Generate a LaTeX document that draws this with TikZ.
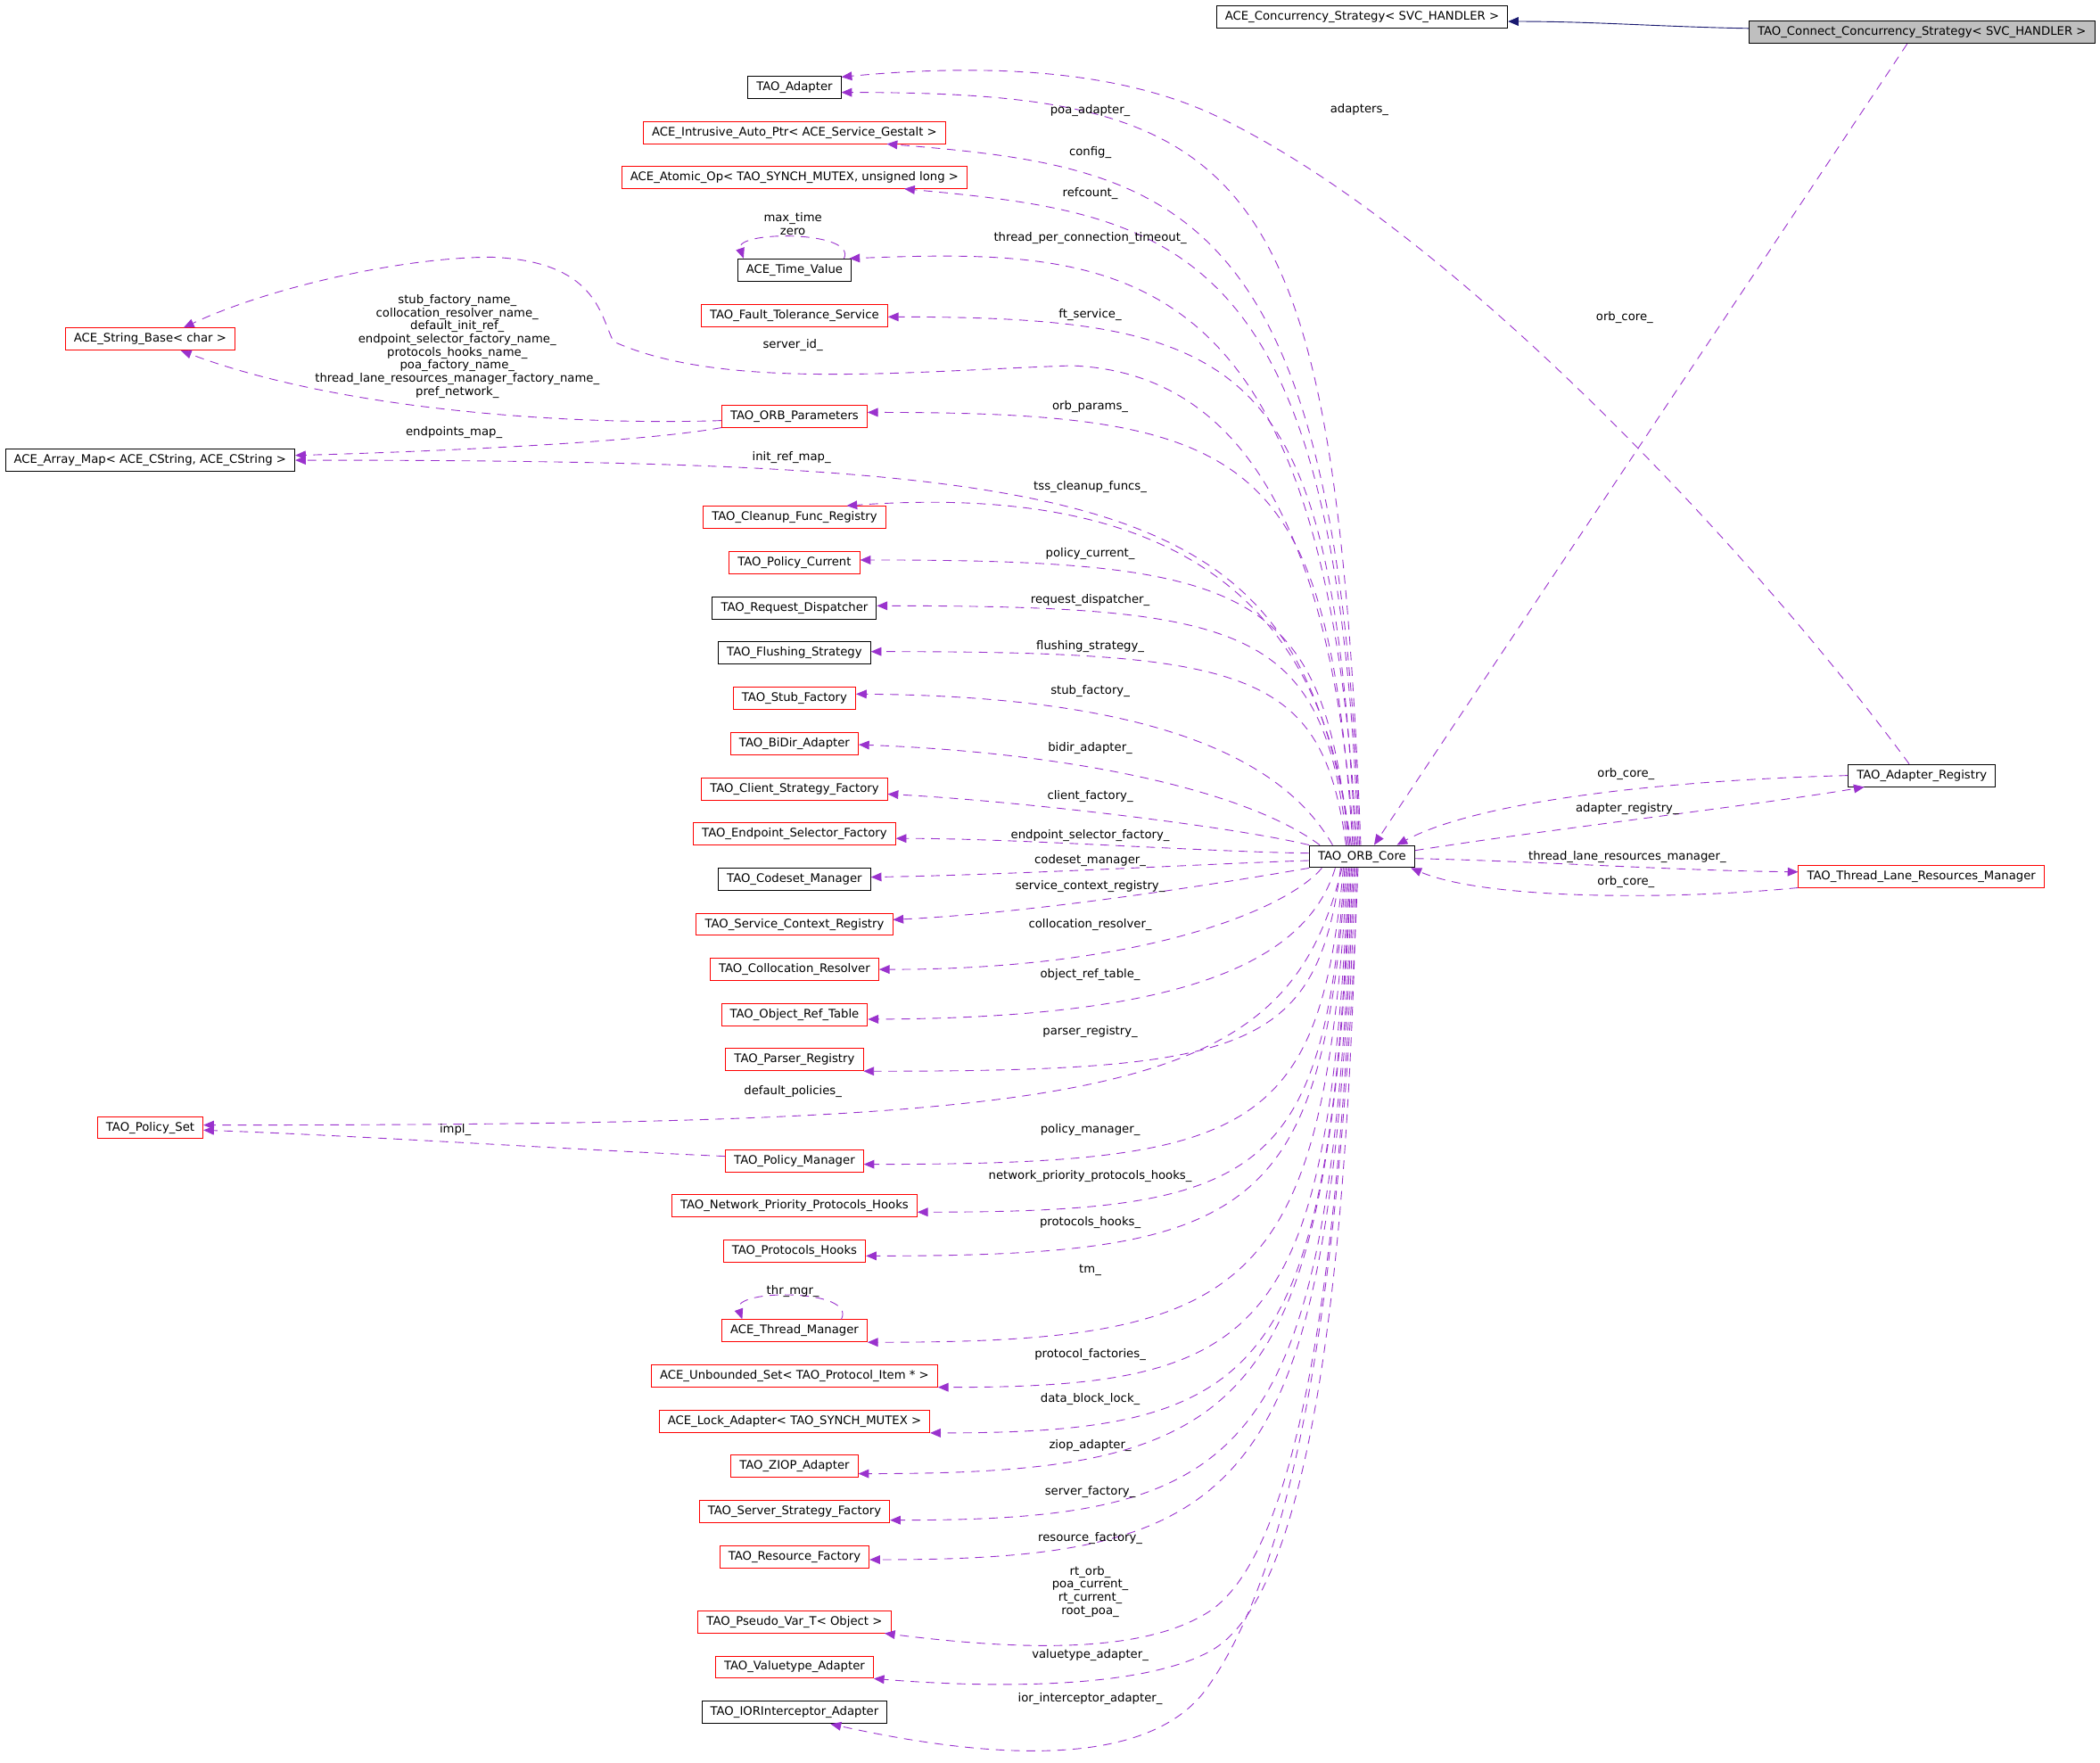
\documentclass[tikz,border=0pt]{standalone}
\usepackage{fontspec}
\setmainfont{DejaVu Sans}
\usetikzlibrary{arrows.meta, calc}

\definecolor{edgepurple}{HTML}{9A32CD}
\definecolor{edgenavy}{HTML}{191970}
\definecolor{mainfill}{HTML}{BFBFBF}

\tikzset{
  classbox/.style={draw=#1, line width=0.6pt, inner xsep=6.4pt, inner ysep=0pt,
    minimum height=16.6pt, text height=6.6pt, text depth=1.9pt,
    font=\fontsize{8.8}{9.8}\selectfont},
  classbox/.default=black,
  member/.style={draw=edgepurple, line width=0.6pt, dash pattern=on 6.5pt off 5pt,
    -{Triangle[length=7.8pt, width=6.5pt]}},
  inherit/.style={draw=edgenavy, line width=0.6pt,
    -{Triangle[length=7.8pt, width=6.5pt]}},
  lbl/.style={inner sep=0pt, text height=6.6pt, text depth=1.9pt,
    font=\fontsize{8.8}{9.8}\selectfont},
  lbls/.style={inner sep=0pt, align=center, font=\fontsize{8.8}{9.8}\selectfont},
}

% member edge: leaves the core steeply, reaches the class flat
\newcommand{\memberedge}[2]{%
  \draw[member] let \p1=(#1), \p2=(#2) in
    (\p1) .. controls ({\x1-0.05*(\x1-\x2)},{\y1+0.9*(\y2-\y1)})
              and ({\x2+0.8*(\x1-\x2)},\y2) .. (\p2);}

\begin{document}
\begin{tikzpicture}[x=1pt, y=-1pt]
\useasboundingbox (0,0) rectangle (1568,1316);

% parameters
\def\colx{593.2}   % centre of the member column
\def\labx{814}     % centre of the member labels

% --- inheritance (top right)
\node[classbox] (acs) at (1017,12.6) {ACE\_Concurrency\_Strategy< SVC\_HANDLER >};
\node[classbox, fill=mainfill] (tccs) at (1435,24.2) {TAO\_Connect\_Concurrency\_Strategy< SVC\_HANDLER >};

% --- core and its right-hand partners
\node[classbox] (core) at (1017,639.5) {TAO\_ORB\_Core};
\node[classbox] (areg) at (1435,579) {TAO\_Adapter\_Registry};
\node[classbox=red] (tlrm) at (1434.6,654.2) {TAO\_Thread\_Lane\_Resources\_Manager};

% --- far left column
\node[classbox=red] (sb) at (112.1,253.2) {ACE\_String\_Base< char >};
\node[classbox] (am) at (112.1,343.6) {ACE\_Array\_Map< ACE\_CString, ACE\_CString >};
\node[classbox=red] (ps) at (112.2,841.9) {TAO\_Policy\_Set};

% --- member column
\node[classbox=red] (atomic) at (\colx,132.4) {ACE\_Atomic\_Op< TAO\_SYNCH\_MUTEX, unsigned long >};
\foreach \n/\c/\y/\t in {
    tadapter/black/65.3/TAO\_Adapter,
    intr/red/98.9/ACE\_Intrusive\_Auto\_Ptr< ACE\_Service\_Gestalt >,
    tv/black/201.6/ACE\_Time\_Value,
    fts/red/235.6/TAO\_Fault\_Tolerance\_Service,
    orbp/red/310.7/TAO\_ORB\_Parameters,
    cfr/red/386.2/TAO\_Cleanup\_Func\_Registry,
    pc/red/420.1/TAO\_Policy\_Current,
    rd/black/454/TAO\_Request\_Dispatcher,
    fs/black/487.5/TAO\_Flushing\_Strategy,
    stubf/red/521.2/TAO\_Stub\_Factory,
    bidir/red/555/TAO\_BiDir\_Adapter,
    csf/red/588.9/TAO\_Client\_Strategy\_Factory,
    esf/red/622.3/TAO\_Endpoint\_Selector\_Factory,
    cm/black/656.2/TAO\_Codeset\_Manager,
    scr/red/690.1/TAO\_Service\_Context\_Registry,
    colr/red/723.8/TAO\_Collocation\_Resolver,
    ort/red/757.5/TAO\_Object\_Ref\_Table,
    pr/red/791.2/TAO\_Parser\_Registry,
    pm/red/866.9/TAO\_Policy\_Manager,
    nph/red/900.1/TAO\_Network\_Priority\_Protocols\_Hooks,
    ph/red/934/TAO\_Protocols\_Hooks,
    thrm/red/993.6/ACE\_Thread\_Manager,
    us/red/1027.2/ACE\_Unbounded\_Set< TAO\_Protocol\_Item * >,
    la/red/1061.3/ACE\_Lock\_Adapter< TAO\_SYNCH\_MUTEX >,
    ziop/red/1094.8/TAO\_ZIOP\_Adapter,
    ssf/red/1128.4/TAO\_Server\_Strategy\_Factory,
    rf/red/1162.2/TAO\_Resource\_Factory,
    pv/red/1210.9/TAO\_Pseudo\_Var\_T< Object >,
    vta/red/1244.7/TAO\_Valuetype\_Adapter,
    ior/black/1278.6/TAO\_IORInterceptor\_Adapter}
  \node[classbox=\c] (\n) at (\colx,\y) {\t};

% --- inheritance edge
\draw[inherit] ([yshift=3pt]tccs.west) .. controls (1240,20) and (1190,16) .. ([yshift=-3.4pt]acs.east);

% --- members on the upper side of the core
\memberedge{[xshift=-1pt]core.north}{[yshift=-3.7pt]tadapter.east}
\draw[member] ([xshift=-2pt]core.north) .. controls (1000,150) and (880,125) .. ([xshift=69pt]intr.south);
\draw[member] ([xshift=-3pt]core.north) .. controls (1000,180) and (880,160) .. ([xshift=82pt]atomic.south);
\draw[member] ([xshift=-4pt]core.north) .. controls (990,190) and (840,185) .. ([xshift=41pt]tv.north);
\memberedge{[xshift=-5pt]core.north}{[yshift=-1pt]fts.east}
\draw[member] ([xshift=-6pt]core.north) .. controls (995,400) and (930,278) .. (800,273)
  .. controls (680,277) and (540,292) .. (458,255)
  .. controls (448,235) and (445,195) .. (367,192)
  .. controls (300,192) and (200,215) .. ([xshift=25pt]sb.north);
\memberedge{[xshift=-7pt]core.north}{[yshift=2.8pt]orbp.east}
\memberedge{[xshift=-8pt]core.north}{am.east}
\draw[member] ([xshift=-9pt]core.north) .. controls (990,450) and (880,360) .. ([xshift=39pt]cfr.north);
\memberedge{[xshift=-10pt]core.north}{[yshift=2pt]pc.east}
\memberedge{[xshift=-11pt]core.north}{[yshift=1.7pt]rd.east}
\memberedge{[xshift=-12pt]core.north}{[yshift=1pt]fs.east}
\draw[member] ([xshift=-22pt]core.north) .. controls (960,570) and (870,520) .. ([yshift=3pt]stubf.east);
\draw[member] ([xshift=8pt]core.north west) .. controls (930,590) and (800,562) .. ([yshift=-1pt]bidir.east);

% --- members on the left side of the core
\draw[member] (core.north west) .. controls (920,617) and (760,598) .. ([yshift=-4pt]csf.east);
\draw[member] ([yshift=2.5pt]core.west) .. controls (900,636) and (760,626) .. ([yshift=-3.7pt]esf.east);
\draw[member] ([yshift=-3pt]core.west) .. controls (900,645) and (760,653) .. ([yshift=1.3pt]cm.east);
\draw[member] (core.south west) .. controls (920,658) and (780,681) .. ([yshift=3.4pt]scr.east);
\draw[member] ([xshift=-30pt]core.south) .. controls (960,680) and (850,724) .. (colr.east);

% --- members on the lower side of the core
\draw[member] ([xshift=-20pt]core.south) .. controls (975,720) and (880,760) .. ([yshift=-3.5pt]ort.east);
\memberedge{[xshift=-16pt]core.south}{pr.south east}
\memberedge{[xshift=-15pt]core.south}{[yshift=1.9pt]ps.east}
\memberedge{[xshift=-14pt]core.south}{[yshift=-2.4pt]pm.east}
\memberedge{[xshift=-13pt]core.south}{[yshift=-4.9pt]nph.east}
\memberedge{[xshift=-12pt]core.south}{[yshift=-3.7pt]ph.east}
\memberedge{[xshift=-11pt]core.south}{thrm.south east}
\memberedge{[xshift=-10pt]core.south}{us.south east}
\memberedge{[xshift=-9pt]core.south}{la.south east}
\memberedge{[xshift=-8pt]core.south}{[yshift=-5.5pt]ziop.east}
\memberedge{[xshift=-7pt]core.south}{[yshift=-6.6pt]ssf.east}
\memberedge{[xshift=-6pt]core.south}{[yshift=-2.3pt]rf.east}
\draw[member] ([xshift=-5pt]core.south) .. controls (1000,1000) and (960,1170) .. (900,1205)
  .. controls (850,1235) and (760,1232) .. ([xshift=-5pt]pv.south east);
\draw[member] ([xshift=-4pt]core.south) .. controls (1005,1050) and (960,1200) .. (905,1232)
  .. controls (860,1258) and (760,1262) .. (vta.south east);
\draw[member] ([xshift=-3pt]core.south) .. controls (1000,1000) and (960,1180) .. (900,1262)
  .. controls (860,1315) and (760,1318) .. ([xshift=27pt]ior.south);

% --- edges between the outer classes
\draw[member] ([yshift=-3.3pt]orbp.west) .. controls (420,318) and (250,305) .. ([xshift=23pt]sb.south);
\draw[member] (orbp.south west) .. controls (480,330) and (330,337) .. ([yshift=3.6pt]am.east);
\draw[member] ([yshift=3.6pt]pm.west) .. controls (420,858) and (270,848) .. ([yshift=-1.9pt]ps.east);
\draw[member] ([xshift=37pt]tv.north) .. controls (640,172) and (548,172) .. ([xshift=-38pt]tv.north);
\draw[member] ([xshift=35pt]thrm.north) .. controls (640,962) and (546,962) .. ([xshift=-39pt]thrm.north);

% --- right-hand side
\draw[member] ([xshift=-11pt]tccs.south) -- ([xshift=9pt]core.north);
\draw[member] ([xshift=-9.5pt]areg.north) .. controls (1330,440) and (1100,180) .. (911,88)
  .. controls (850,58) and (760,45) .. ([yshift=7.8pt]tadapter.east);
\draw[member] (areg.west) .. controls (1230,583) and (1100,600) .. ([xshift=26pt]core.north);
\draw[member] ([yshift=4.5pt]core.east) .. controls (1150,620) and (1320,600) .. ([xshift=-43pt]areg.south);
\draw[member] ([yshift=-1.5pt]core.east) .. controls (1150,643) and (1250,650) .. ([yshift=3.2pt]tlrm.west);
\draw[member] (tlrm.south west) .. controls (1250,672) and (1110,672) .. ([xshift=-3pt]core.south east);

% --- labels
\foreach \y/\t [count=\i] in {
    82.5/poa\_adapter\_, 113.6/config\_, 144.3/refcount\_,
    177.6/thread\_per\_connection\_timeout\_, 234.9/ft\_service\_,
    303.6/orb\_params\_, 363.6/tss\_cleanup\_funcs\_, 413.5/policy\_current\_,
    448/request\_dispatcher\_, 483/flushing\_strategy\_, 516/stub\_factory\_,
    558.6/bidir\_adapter\_, 594.6/client\_factory\_,
    624/endpoint\_selector\_factory\_, 642.6/codeset\_manager\_,
    662/service\_context\_registry\_, 690.5/collocation\_resolver\_,
    728/object\_ref\_table\_, 770/parser\_registry\_, 843.6/policy\_manager\_,
    878/network\_priority\_protocols\_hooks\_, 913/protocols\_hooks\_, 948/tm\_,
    1011.5/protocol\_factories\_, 1044.8/data\_block\_lock\_,
    1079.2/ziop\_adapter\_, 1114/server\_factory\_, 1148.4/resource\_factory\_,
    1235.5/valuetype\_adapter\_, 1268.5/ior\_interceptor\_adapter\_}
  \node[lbl] (lab\i) at (\labx,\y) {\t};

\node[lbls] (labrt) at (\labx,1188.4) {rt\_orb\_\\poa\_current\_\\rt\_current\_\\root\_poa\_};
\node[lbls] (labtv) at (592,167.4) {max\_time\\zero};
\node[lbl] (labsid) at (592,257.5) {server\_id\_};
\node[lbls] (labnames) at (341.4,258.6) {stub\_factory\_name\_\\collocation\_resolver\_name\_\\default\_init\_ref\_\\endpoint\_selector\_factory\_name\_\\protocols\_hooks\_name\_\\poa\_factory\_name\_\\thread\_lane\_resources\_manager\_factory\_name\_\\pref\_network\_};
\node[lbl] (labemap) at (339,322.6) {endpoints\_map\_};
\node[lbl] (labirm) at (591,341.4) {init\_ref\_map\_};
\node[lbl] (labdp) at (592,814.8) {default\_policies\_};
\node[lbl] (labimpl) at (340,843.8) {impl\_};
\node[lbl] (labthr) at (592,964) {thr\_mgr\_};
\node[lbl] (labadp) at (1015,82) {adapters\_};
\node[lbl] (laboc1) at (1213,237) {orb\_core\_};
\node[lbl] (laboc2) at (1214,578) {orb\_core\_};
\node[lbl] (labar) at (1215,604) {adapter\_registry\_};
\node[lbl] (labtl) at (1215,640) {thread\_lane\_resources\_manager\_};
\node[lbl] (laboc3) at (1214,658.5) {orb\_core\_};

\end{tikzpicture}
\end{document}
